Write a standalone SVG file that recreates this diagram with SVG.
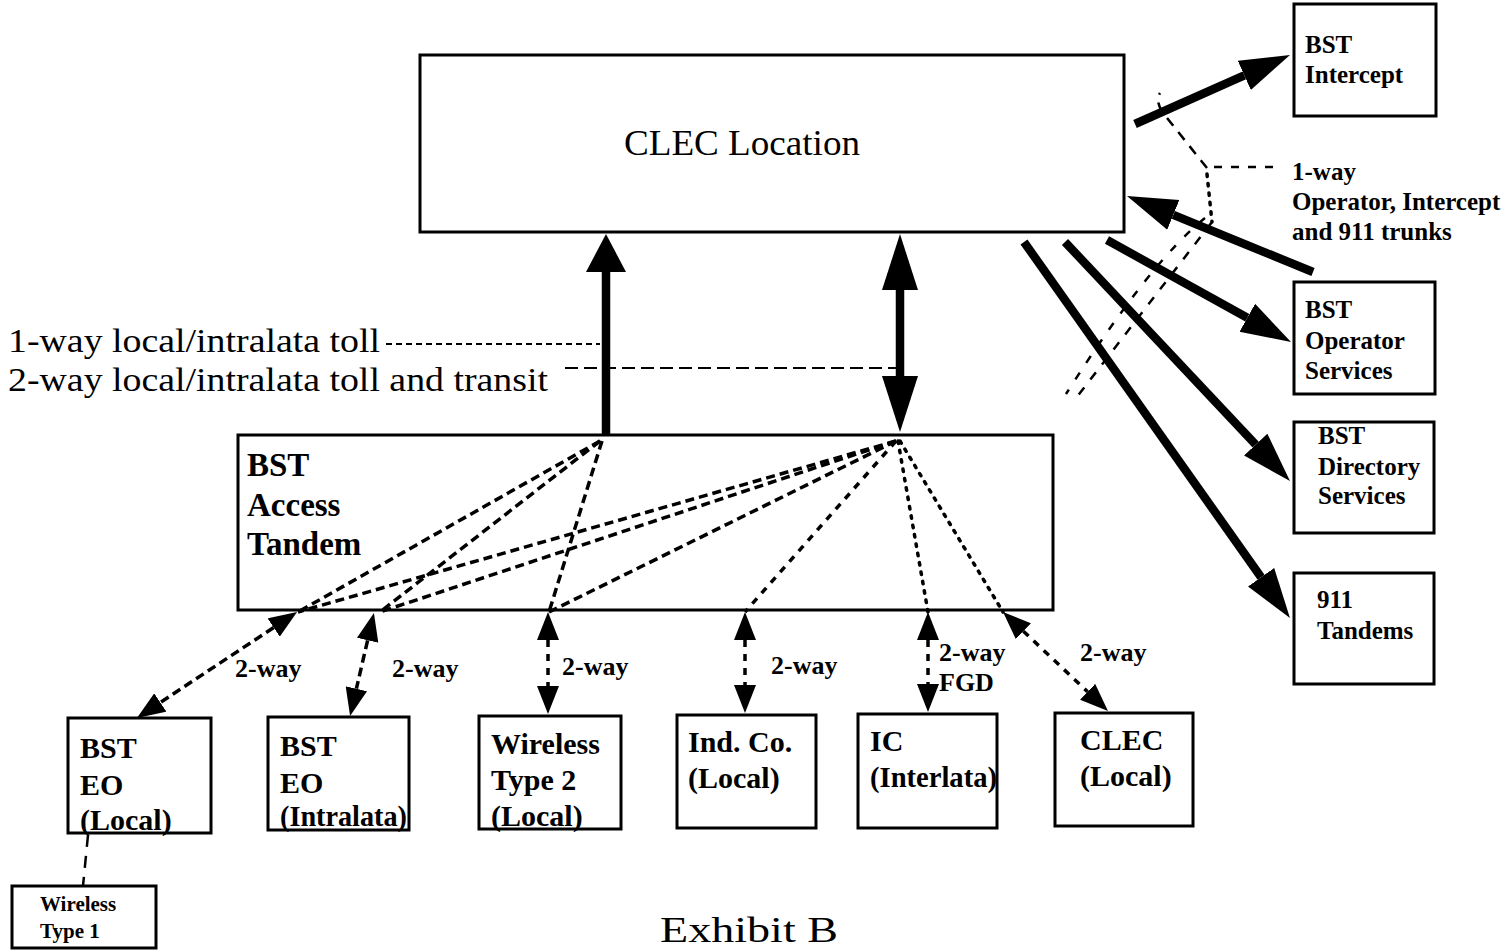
<svg xmlns="http://www.w3.org/2000/svg" width="1503" height="952" viewBox="0 0 1503 952">
<style>
  .box { fill: #fff; stroke: #000; stroke-width: 3; }
  .t { font-family: "Liberation Serif", "Times New Roman", serif; fill: #000; }
  .b { font-weight: bold; }
  .thick { stroke: #000; stroke-width: 8.5; fill: none; }
  .dl { stroke: #000; stroke-width: 3.5; fill: none; stroke-dasharray: 9 5; }
  .dm { stroke: #000; stroke-width: 3.5; fill: none; stroke-dasharray: 7 7; }
  .dot { stroke: #000; stroke-width: 3.5; fill: none; stroke-dasharray: 2.5 7; stroke-linecap: round; }
  .lbl { stroke: #000; stroke-width: 2; fill: none; }
  .thin { stroke: #000; stroke-width: 2.5; fill: none; }
</style>
<defs>
  <marker id="hd" viewBox="0 -17 50 34" markerWidth="50" markerHeight="34" refX="0" refY="0" orient="auto" markerUnits="userSpaceOnUse"><path d="M0,-16 L50,0 L0,16z" fill="#000"/></marker>
  <marker id="hv" viewBox="0 -20 38 40" markerWidth="38" markerHeight="40" refX="0" refY="0" orient="auto" markerUnits="userSpaceOnUse"><path d="M0,-20 L38,0 L0,20z" fill="#000"/></marker>
  <marker id="hl" viewBox="0 -18 56 36" markerWidth="56" markerHeight="36" refX="0" refY="0" orient="auto-start-reverse" markerUnits="userSpaceOnUse"><path d="M0,-18 L56,0 L0,18z" fill="#000"/></marker>
  <marker id="hs" viewBox="0 -11 28 22" markerWidth="28" markerHeight="22" refX="0" refY="0" orient="auto-start-reverse" markerUnits="userSpaceOnUse"><path d="M0,-11 L28,0 L0,11z" fill="#000"/></marker>
</defs>
<rect width="1503" height="952" fill="#fff"/>

<g id="clec-location">
  <rect class="box" x="420" y="55" width="704" height="177"/>
  <text class="t" x="624" y="155" font-size="35" textLength="236" lengthAdjust="spacingAndGlyphs">CLEC Location</text>
</g>

<g id="access-tandem">
  <rect class="box" x="238" y="435" width="815" height="175"/>
  <text class="t b" x="247" y="476" font-size="33">BST</text>
  <text class="t b" x="247" y="516" font-size="33">Access</text>
  <text class="t b" x="247" y="555" font-size="33">Tandem</text>
</g>

<g id="bst-intercept">
  <rect class="box" x="1294" y="4" width="142" height="112"/>
  <text class="t b" x="1305" y="53" font-size="25">BST</text>
  <text class="t b" x="1305" y="83" font-size="25">Intercept</text>
</g>
<g id="bst-operator">
  <rect class="box" x="1294" y="282" width="141" height="112"/>
  <text class="t b" x="1305" y="318" font-size="25">BST</text>
  <text class="t b" x="1305" y="349" font-size="25">Operator</text>
  <text class="t b" x="1305" y="379" font-size="25">Services</text>
</g>
<g id="bst-directory">
  <rect class="box" x="1294" y="422" width="140" height="111"/>
  <text class="t b" x="1318" y="444" font-size="25">BST</text>
  <text class="t b" x="1318" y="475" font-size="25">Directory</text>
  <text class="t b" x="1318" y="504" font-size="25">Services</text>
</g>
<g id="tandems-911">
  <rect class="box" x="1294" y="573" width="140" height="111"/>
  <text class="t b" x="1317" y="608" font-size="25">911</text>
  <text class="t b" x="1317" y="639" font-size="25">Tandems</text>
</g>

<g id="bst-eo-local">
  <rect class="box" x="68" y="718" width="143" height="115"/>
  <text class="t b" x="80" y="758" font-size="30">BST</text>
  <text class="t b" x="80" y="795" font-size="30">EO</text>
  <text class="t b" x="80" y="830" font-size="30">(Local)</text>
</g>
<g id="bst-eo-intralata">
  <rect class="box" x="268" y="717" width="141" height="113"/>
  <text class="t b" x="280" y="756" font-size="30">BST</text>
  <text class="t b" x="280" y="793" font-size="30">EO</text>
  <text class="t b" x="280" y="826" font-size="30" textLength="127" lengthAdjust="spacingAndGlyphs">(Intralata)</text>
</g>
<g id="wireless-type2">
  <rect class="box" x="479" y="716" width="142" height="113"/>
  <text class="t b" x="491" y="754" font-size="30">Wireless</text>
  <text class="t b" x="491" y="790" font-size="30">Type 2</text>
  <text class="t b" x="491" y="826" font-size="30">(Local)</text>
</g>
<g id="ind-co">
  <rect class="box" x="677" y="715" width="139" height="113"/>
  <text class="t b" x="688" y="752" font-size="30">Ind. Co.</text>
  <text class="t b" x="688" y="788" font-size="30">(Local)</text>
</g>
<g id="ic-interlata">
  <rect class="box" x="858" y="714" width="139" height="114"/>
  <text class="t b" x="870" y="751" font-size="30">IC</text>
  <text class="t b" x="870" y="787" font-size="30" textLength="127" lengthAdjust="spacingAndGlyphs">(Interlata)</text>
</g>
<g id="clec-local">
  <rect class="box" x="1055" y="713" width="138" height="113"/>
  <text class="t b" x="1080" y="750" font-size="30">CLEC</text>
  <text class="t b" x="1080" y="786" font-size="30">(Local)</text>
</g>
<g id="wireless-type1">
  <rect class="box" x="12" y="886" width="144" height="62"/>
  <text class="t b" x="40" y="911" font-size="21">Wireless</text>
  <text class="t b" x="40" y="938" font-size="21">Type 1</text>
</g>

<g id="connectors">
  <!-- CLEC to tandem trunks -->
  <path class="thick" d="M606,435 L606,272" stroke-width="7" marker-end="url(#hv)"/>
  <path class="thick" d="M900,290 L900,376" marker-start="url(#hl)" marker-end="url(#hl)"/>

  <!-- right-side trunks -->
  <path class="thick" d="M1135,124 L1244.3,75.3" marker-end="url(#hd)"/>
  <path class="thick" d="M1313,272 L1173.3,214.9" marker-end="url(#hd)"/>
  <path class="thick" d="M1107,240 L1247.3,317.8" marker-end="url(#hd)"/>
  <path class="thick" d="M1065,242 L1255.7,444.6" marker-end="url(#hd)"/>
  <path class="thick" d="M1024,242 L1261.1,577.2" marker-end="url(#hd)"/>

  <!-- tandem internal routing -->
  <path class="dl" d="M600,441 L298,612"/>
  <path class="dl" d="M600,441 L380,612"/>
  <path class="dl" d="M602,441 L549,612"/>
  <path class="dl" d="M896,441 L298,612"/>
  <path class="dl" d="M896,441 L380,612"/>
  <path class="dl" d="M896,441 L549,612"/>
  <path class="dm" d="M896,441 L745,612"/>
  <path class="dot" d="M898,441 L928,612"/>
  <path class="dot" d="M900,441 L1003,612"/>

  <!-- tandem to end offices -->
  <path class="dl" d="M273.7,627.5 L160.3,702.5" stroke-dasharray="16 12" marker-start="url(#hs)" marker-end="url(#hs)"/>
  <path class="dl" d="M367.6,640.3 L356.4,688.7" stroke-dasharray="10 12" marker-start="url(#hs)" marker-end="url(#hs)"/>
  <path class="dm" d="M548,640 L548,686" stroke-dasharray="7 9 3 9" marker-start="url(#hs)" marker-end="url(#hs)"/>
  <path class="dm" d="M745,640 L745,685" stroke-dasharray="8 10 3 10" marker-start="url(#hs)" marker-end="url(#hs)"/>
  <path class="dm" d="M928,640 L928,684" stroke-dasharray="7 9 3 9" marker-start="url(#hs)" marker-end="url(#hs)"/>
  <path class="dm" d="M1023.4,631.2 L1087.6,691.8" stroke-dasharray="5 16" marker-start="url(#hs)" marker-end="url(#hs)"/>
  <path class="thin" d="M88,835 L83,886" stroke-width="4" stroke-dasharray="12 9"/>

  <!-- legend leaders -->
  <path class="lbl" d="M386,344 L600,344" stroke-dasharray="6 4"/>
  <path class="lbl" d="M565,368 L896,368" stroke-dasharray="13 6"/>

  <!-- 1-way operator/intercept/911 leaders -->
  <path class="thin" d="M1273,167 L1210,167" stroke-dasharray="8 9"/>
  <path class="thin" d="M1207,168 L1163,113 Q1155,101 1160,93" stroke-width="3" stroke-dasharray="10 8"/>
  <path class="dot" d="M1207,174 L1212,222" stroke-width="3.5" stroke-dasharray="2.5 8"/>
  <path class="thin" d="M1212,222 L1073,402" stroke-width="3.5" stroke-dasharray="9 10"/>
  <path class="thin" d="M1205,218 Q1150,262 1066,394" stroke-width="3.5" stroke-dasharray="8 12"/>
</g>

<g id="labels">
  <text class="t" x="8" y="352" font-size="34" textLength="372" lengthAdjust="spacingAndGlyphs">1-way local/intralata toll</text>
  <text class="t" x="8" y="391" font-size="34" textLength="540" lengthAdjust="spacingAndGlyphs">2-way local/intralata toll and transit</text>
  <text class="t b" x="1292" y="180" font-size="25">1-way</text>
  <text class="t b" x="1292" y="210" font-size="25">Operator, Intercept</text>
  <text class="t b" x="1292" y="240" font-size="25">and 911 trunks</text>
  <text class="t b" x="235" y="677" font-size="26">2-way</text>
  <text class="t b" x="392" y="677" font-size="26">2-way</text>
  <text class="t b" x="562" y="675" font-size="26">2-way</text>
  <text class="t b" x="771" y="674" font-size="26">2-way</text>
  <text class="t b" x="939" y="661" font-size="26">2-way</text>
  <text class="t b" x="939" y="691" font-size="26">FGD</text>
  <text class="t b" x="1080" y="661" font-size="26">2-way</text>
  <text class="t" x="660" y="942" font-size="36" textLength="178" lengthAdjust="spacingAndGlyphs">Exhibit B</text>
</g>
</svg>
